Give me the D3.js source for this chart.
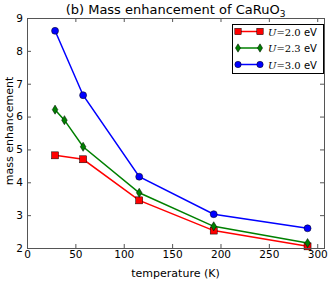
<!DOCTYPE html>
<html>
<head>
<meta charset="utf-8">
<script src="https://cdn.jsdelivr.net/npm/d3@7"></script>
<style>
  body { margin: 0; background: #fff; }
  text { font-family: "DejaVu Sans", sans-serif; fill: #000; }
</style>
</head>
<body>
<script>
// data
var tempsU20 = [29, 58, 116, 193, 290];
var valsU20 = [4.82, 4.70, 3.45, 2.53, 2.05];
var tempsU23 = [29, 38.7, 58, 116, 193, 290];
var valsU23 = [6.21, 5.89, 5.08, 3.68, 2.66, 2.15];
var tempsU30 = [29, 58, 116, 193, 290];
var valsU30 = [8.61, 6.65, 4.17, 3.03, 2.60];
var xTicks = [0, 50, 100, 150, 200, 250, 300];
var yTicks = [2, 3, 4, 5, 6, 7, 8, 9];

var series = [
  {name: '2.0', x: tempsU20, y: valsU20, color: '#ff0000', marker: 'square'},
  {name: '2.3', x: tempsU23, y: valsU23, color: '#008000', marker: 'diamond'},
  {name: '3.0', x: tempsU30, y: valsU30, color: '#0000ff', marker: 'circle'}
];

var W = 332, H = 281;
var margin = {top: 18, right: 8, bottom: 33, left: 27};
var w = W - margin.left - margin.right;
var h = H - margin.top - margin.bottom;

var svg = d3.select('body').append('svg')
            .attr('width', W)
            .attr('height', H);

var xScale = d3.scaleLinear().domain([0, 307]).range([0, w]);
var yScale = d3.scaleLinear().domain([2, 9]).range([h, 0]);

var g = svg.append('g')
           .attr('transform', 'translate(' + margin.left + ',' + margin.top + ')');

// lines + markers
var line = d3.line()
             .x(function(d) { return xScale(d[0]); })
             .y(function(d) { return yScale(d[1]); });

function drawMarker(sel, type, color, size) {
  if (type === 'square') {
    sel.append('rect').attr('x', -size).attr('y', -size)
       .attr('width', 2 * size).attr('height', 2 * size)
       .attr('fill', color).attr('stroke', '#000').attr('stroke-width', 0.5);
  } else if (type === 'diamond') {
    sel.append('path')
       .attr('d', 'M0,' + (-size * 1.3) + 'L' + size * 0.8 + ',0L0,' + size * 1.3 + 'L' + (-size * 0.8) + ',0Z')
       .attr('fill', color).attr('stroke', '#000').attr('stroke-width', 0.5);
  } else {
    sel.append('circle').attr('r', size)
       .attr('fill', color).attr('stroke', '#000').attr('stroke-width', 0.5);
  }
}

series.forEach(function(s) {
  var pts = s.x.map(function(t, i) { return [t, s.y[i]]; });
  g.append('path')
   .datum(pts)
   .attr('d', line)
   .attr('fill', 'none')
   .attr('stroke', s.color)
   .attr('stroke-width', 1.5);
  pts.forEach(function(p) {
    var m = g.append('g')
             .attr('transform', 'translate(' + xScale(p[0]) + ',' + yScale(p[1]) + ')');
    drawMarker(m, s.marker, s.color, 3.5);
  });
});

// axes, ticks pointing inward like matplotlib classic
var xAxis = d3.axisBottom(xScale).tickValues(xTicks).tickFormat(d3.format('d')).tickSizeInner(-4).tickSizeOuter(0).tickPadding(4);
var yAxis = d3.axisLeft(yScale).tickValues(yTicks).tickFormat(d3.format('d')).tickSizeInner(-4).tickSizeOuter(0).tickPadding(4);
var xTop = d3.axisTop(xScale).tickValues(xTicks).tickSizeInner(-4).tickSizeOuter(0).tickFormat('');
var yRight = d3.axisRight(yScale).tickValues(yTicks).tickSizeInner(-4).tickSizeOuter(0).tickFormat('');

var gx = g.append('g').attr('transform', 'translate(0,' + h + ')').call(xAxis);
var gy = g.append('g').call(yAxis);
g.append('g').call(xTop);
g.append('g').attr('transform', 'translate(' + w + ',0)').call(yRight);

g.selectAll('.domain').remove();
g.selectAll('.tick line').attr('stroke', '#555');
g.selectAll('.tick text').style('font-family', '"DejaVu Sans", sans-serif').style('font-size', '10.5px').attr('fill', '#000');
gx.selectAll('.tick text').attr('dy', '0.6em');

// frame
g.append('rect')
 .attr('x', 0.5).attr('y', 0.5)
 .attr('width', w).attr('height', h)
 .attr('fill', 'none')
 .attr('stroke', '#555')
 .attr('stroke-width', 1);

// labels
svg.append('text')
   .attr('text-anchor', 'middle')
   .attr('x', margin.left + w / 2)
   .attr('y', H - 4)
   .style('font-size', '11px')
   .text('temperature (K)');

svg.append('text')
   .attr('text-anchor', 'middle')
   .attr('transform', 'translate(13,' + (margin.top + h / 2 - 2) + ')rotate(-90)')
   .style('font-size', '11px')
   .text('mass enhancement');

var title = svg.append('text')
   .attr('text-anchor', 'middle')
   .attr('x', margin.left + w / 2)
   .attr('y', 14)
   .style('font-size', '13px');
title.append('tspan').text('(b) Mass enhancement of CaRuO');
title.append('tspan').attr('dy', 3).style('font-size', '9px').text('3');

// legend
var legend = svg.append('g').attr('transform', 'translate(232,24)');
legend.append('rect')
      .attr('x', 0.5).attr('y', 0.5)
      .attr('width', 91).attr('height', 49)
      .attr('fill', '#fff')
      .attr('stroke', '#000')
      .attr('stroke-width', 1);

series.forEach(function(s, i) {
  var row = legend.append('g').attr('transform', 'translate(0,' + (7.5 + i * 16.5) + ')');
  row.append('line')
     .attr('x1', 6).attr('x2', 28).attr('y1', 0).attr('y2', 0)
     .attr('stroke', s.color).attr('stroke-width', 1.5);
  [6, 28].forEach(function(xx) {
    var m = row.append('g').attr('transform', 'translate(' + xx + ',0)');
    drawMarker(m, s.marker, s.color, 3.2);
  });
  var t = row.append('text').attr('x', 36).attr('y', 4).style('font-size', '10px');
  t.append('tspan').style('font-family', '"DejaVu Serif", serif').style('font-style', 'italic').text('U');
  t.append('tspan').style('font-family', '"DejaVu Serif", serif').text('=' + s.name);
  t.append('tspan').text(' eV');
});
</script>
</body>
</html>
